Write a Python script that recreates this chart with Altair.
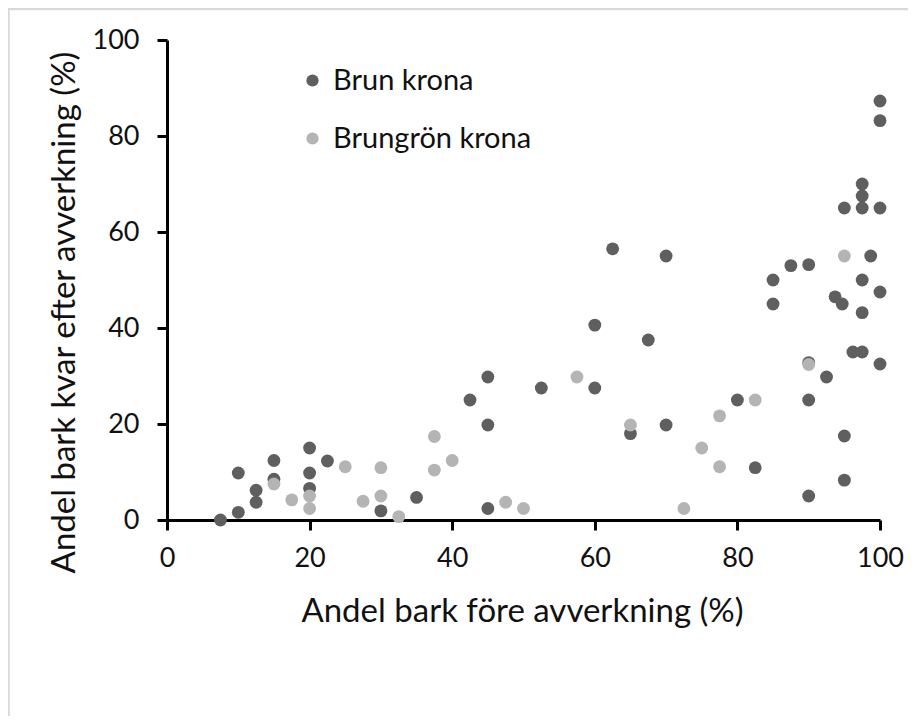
import altair as alt
import pandas as pd

series_names = ["Brun krona", "Brungrön krona"]
series_colors = ["#5f5f5f", "#b4b4b4"]

brun_x = [7.5, 10, 10, 12.5, 12.5, 15, 15, 20, 20, 20, 22.5, 30, 35, 42.5, 45, 45, 45,
          52.5, 60, 60, 62.5, 65, 67.5, 70, 70, 80, 82.5, 85, 85, 87.5, 90, 90, 90, 90,
          92.5, 93.7, 94.7, 95, 95, 95, 96.2, 97.5, 97.5, 97.5, 97.5, 97.5, 97.5, 98.7,
          100, 100, 100, 100, 100]
brun_y = [0, 1.6, 9.8, 3.7, 6.2, 12.4, 8.5, 15, 9.8, 6.6, 12.3, 1.9, 4.7, 25, 29.8, 19.8, 2.4,
          27.5, 40.6, 27.5, 56.5, 18, 37.5, 55, 19.8, 25, 10.9, 50, 45, 53, 53.2, 32.8, 25, 5,
          29.8, 46.5, 45, 65, 17.5, 8.3, 35, 35, 70, 67.5, 65, 50, 43.2, 55,
          87.3, 83.2, 65, 47.5, 32.5]

gron_x = [15, 17.5, 20, 20, 25, 27.5, 30, 30, 32.5, 37.5, 37.5, 40, 47.5, 50, 57.5, 65,
          72.5, 75, 77.5, 77.5, 82.5, 90, 95]
gron_y = [7.5, 4.2, 5, 2.4, 11.1, 3.9, 10.9, 5, 0.7, 17.4, 10.4, 12.4, 3.7, 2.4, 29.8, 19.8,
          2.4, 15, 21.7, 11.1, 25, 32.4, 55]

x_ticks = [0, 20, 40, 60, 80, 100]
y_ticks = [0, 20, 40, 60, 80, 100]

df = pd.concat([
    pd.DataFrame({"x": brun_x, "y": brun_y, "serie": series_names[0]}),
    pd.DataFrame({"x": gron_x, "y": gron_y, "serie": series_names[1]}),
], ignore_index=True)

FONT = "Lato"

points = alt.Chart(df).mark_circle(size=165, opacity=1).encode(
    x=alt.X("x:Q", scale=alt.Scale(domain=[0, 100], nice=False),
            axis=alt.Axis(values=x_ticks, title="Andel bark före avverkning (%)",
                          titleBaseline="alphabetic", titleY=101, titleX=355,
                          labelPadding=15, labelFlush=False)),
    y=alt.Y("y:Q", scale=alt.Scale(domain=[0, 100], nice=False),
            axis=alt.Axis(values=y_ticks, title="Andel bark kvar efter avverkning (%)",
                          titleBaseline="alphabetic", titleX=-93, titleY=272,
                          titleAngle=270, titleAlign="center", titleLimit=0,
                          labelPadding=18, labelFlush=False)),
    color=alt.Color("serie:N",
                    scale=alt.Scale(domain=series_names, range=series_colors),
                    legend=alt.Legend(title=None, orient="none", legendX=131, legendY=26,
                                      symbolType="circle", symbolSize=150,
                                      symbolStrokeWidth=0, labelFontSize=29,
                                      labelFont=FONT, labelColor="#111111", labelLimit=0,
                                      labelOffset=6, rowPadding=28, padding=0,
                                      offset=0)),
    order=alt.Order("serie:N"),
)

border_df = pd.DataFrame({"k": [0]})
top_border = alt.Chart(border_df).mark_rule(color="#d9d9d9", strokeWidth=2.5).encode(
    x=alt.value(-159), x2=alt.value(760), y=alt.value(-31)
)
left_border = alt.Chart(border_df).mark_rule(color="#d9d9d9", strokeWidth=2.5).encode(
    x=alt.value(-158.5), y=alt.value(-32), y2=alt.value(700)
)

chart = alt.layer(top_border, left_border, points).properties(
    width=713, height=480,
    autosize=alt.AutoSizeParams(type="none"),
    padding={"left": 159, "top": 32, "right": 28, "bottom": 196},
).configure_view(stroke=None).configure_axis(
    grid=False, domainColor="black", domainWidth=3, tickColor="black", tickWidth=3,
    tickSize=10, labelFont=FONT, labelFontSize=27, labelColor="#111111",
    titleFont=FONT, titleFontSize=33, titleColor="#111111", titleFontWeight="normal",
)

chart.save("out.html", embed_options={"renderer": "svg", "actions": False})
